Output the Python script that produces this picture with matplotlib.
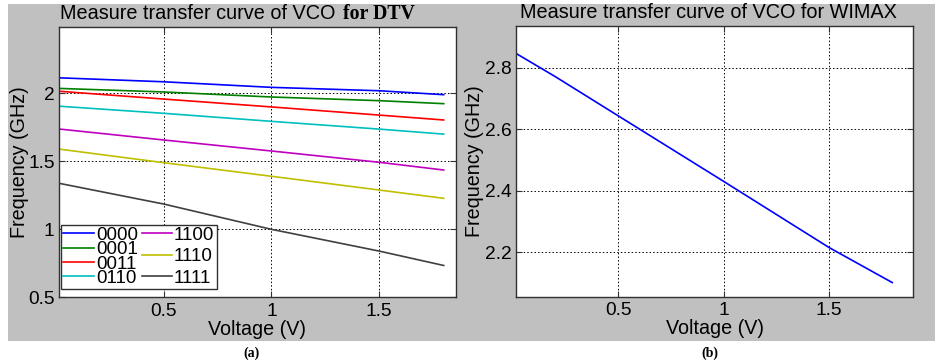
import matplotlib
matplotlib.use("Agg")
import matplotlib.pyplot as plt
from matplotlib.patches import Rectangle
from matplotlib.ticker import FuncFormatter

# ---- data -------------------------------------------------------------
voltage_dtv = [0.0, 0.5, 1.0, 1.5, 1.8]
codes = ["0000", "0001", "0011", "0110", "1100", "1110", "1111"]
freq_0000 = [2.115, 2.085, 2.044, 2.019, 1.990]
freq_0001 = [2.037, 2.010, 1.973, 1.946, 1.924]
freq_0011 = [2.017, 1.958, 1.900, 1.840, 1.804]
freq_0110 = [1.907, 1.853, 1.794, 1.737, 1.700]
freq_1100 = [1.740, 1.657, 1.576, 1.493, 1.436]
freq_1110 = [1.593, 1.490, 1.390, 1.289, 1.228]
freq_1111 = [1.343, 1.186, 1.000, 0.840, 0.734]

voltage_wimax = [0.0, 0.2, 0.5, 1.0, 1.5, 1.8]
freq_wimax = [2.852, 2.771, 2.643, 2.430, 2.215, 2.101]

dtv_xticks = [0.5, 1, 1.5]
dtv_yticks = [0.5, 1, 1.5, 2]
wimax_xticks = [0.5, 1, 1.5]
wimax_yticks = [2.2, 2.4, 2.6, 2.8]

# ---- styling ----------------------------------------------------------
plt.rcParams["font.family"] = ["Liberation Sans", "DejaVu Sans"]
W, H, DPI = 935, 364, 100
fig = plt.figure(figsize=(W / DPI, H / DPI), dpi=DPI)
fig.patch.set_facecolor("white")

# grey figure panel behind both axes
fig.patches.append(Rectangle((8 / W, 1 - 341 / H), 1 - 8 / W, (341 - 4) / H,
                             transform=fig.transFigure, facecolor="#c0c0c0",
                             edgecolor="none", zorder=-10))

line_colors = ["#0000ff", "#008000", "#ff0000", "#00bfbf",
               "#bf00bf", "#bfbf00", "#404040"]
series = [freq_0000, freq_0001, freq_0011, freq_0110,
          freq_1100, freq_1110, freq_1111]

fmt = FuncFormatter(lambda v, p: f"{v:g}")
TICK_FS = 13.8
LABEL_FS = 14.2
TITLE_FS = 14.3


def style_axes(ax, xticks, yticks):
    ax.set_facecolor("white")
    ax.set_xticks(xticks)
    ax.set_yticks(yticks)
    ax.xaxis.set_major_formatter(fmt)
    ax.yaxis.set_major_formatter(fmt)
    ax.tick_params(direction="in", top=True, right=True, length=4,
                   width=0.8, color="#303030", labelsize=TICK_FS)
    ax.tick_params(axis="x", pad=4)
    ax.tick_params(axis="y", pad=3)
    ax.grid(True, color="black", linestyle=(0, (1.5, 2.2)), linewidth=0.7)
    ax.set_axisbelow(True)
    for s in ax.spines.values():
        s.set_color("#303030")
        s.set_linewidth(1.0)


ax_h = (297.3 - 26.7) / H
ax1 = fig.add_axes([58.7 / W, 1 - 297.3 / H, (456 - 58.7) / W, ax_h])
ax2 = fig.add_axes([515.7 / W, 1 - 296.7 / H, (913.3 - 515.7) / W, ax_h])

# ---- left: DTV tuning curves -----------------------------------------
for code, vals, col in zip(codes, series, line_colors):
    ax1.plot(voltage_dtv, vals, color=col, lw=1.2, label=code)
ax1.set_xlim(0.013, 1.857)
ax1.set_ylim(0.5, 2.49)
style_axes(ax1, dtv_xticks, dtv_yticks)
ax1.set_xlabel("Voltage (V)", fontsize=LABEL_FS)
ax1.set_ylabel("Frequency (GHz)", fontsize=LABEL_FS)
ax1.xaxis.set_label_coords(0.5, -0.083)
ax1.yaxis.set_label_coords(-0.074, 0.5)

leg = ax1.legend(ncol=2, loc="lower left", bbox_to_anchor=(0.006, 0.03),
                 fontsize=13.5, handlelength=1.65, handletextpad=0.08,
                 columnspacing=0.2, labelspacing=-0.15, borderpad=0.12,
                 borderaxespad=0.0, fancybox=False, framealpha=1,
                 edgecolor="#303030")
leg.get_frame().set_linewidth(1.0)

# spread the shorter second column over the full legend height
fig.canvas.draw()
renderer = fig.canvas.get_renderer()
cols = leg._legend_handle_box.get_children()
if len(cols) == 2:
    h_full = cols[0].get_bbox(renderer).height
    entry_h = cols[1].get_children()[0].get_bbox(renderer).height
    n2 = len(cols[1].get_children())
    gap_px = (h_full - n2 * entry_h) / (n2 - 1)
    cols[1].sep = gap_px * 72 / DPI

# ---- right: WiMAX tuning curve ---------------------------------------
ax2.plot(voltage_wimax, freq_wimax, color="#0000ff", lw=1.2)
ax2.set_xlim(0.013, 1.9)
ax2.set_ylim(2.055, 2.935)
style_axes(ax2, wimax_xticks, wimax_yticks)
ax2.set_xlabel("Voltage (V)", fontsize=LABEL_FS)
ax2.set_ylabel("Frequency (GHz)", fontsize=LABEL_FS)
ax2.xaxis.set_label_coords(0.5, -0.083)
ax2.yaxis.set_label_coords(-0.08, 0.5)

# ---- titles ------------------------------------------------------------
fig.text(60 / W, 1 - 19.3 / H, "Measure transfer curve of VCO",
         fontsize=TITLE_FS, ha="left", va="baseline")
fig.text(343 / W, 1 - 19.3 / H, "for DTV", fontsize=TITLE_FS, ha="left",
         va="baseline", family=["Liberation Serif", "DejaVu Serif"],
         weight="bold")
fig.text(708 / W, 1 - 18.3 / H, "Measure transfer curve of VCO for WIMAX",
         fontsize=TITLE_FS, ha="center", va="baseline")

# panel captions
fig.text(252 / W, 1 - 353.5 / H, "(a)", fontsize=10, ha="center",
         va="center", family=["Liberation Serif", "DejaVu Serif"],
         weight="bold")
fig.text(710 / W, 1 - 353.5 / H, "(b)", fontsize=10, ha="center",
         va="center", family=["Liberation Serif", "DejaVu Serif"],
         weight="bold")

fig.savefig("out.png", dpi=DPI, facecolor="white")
